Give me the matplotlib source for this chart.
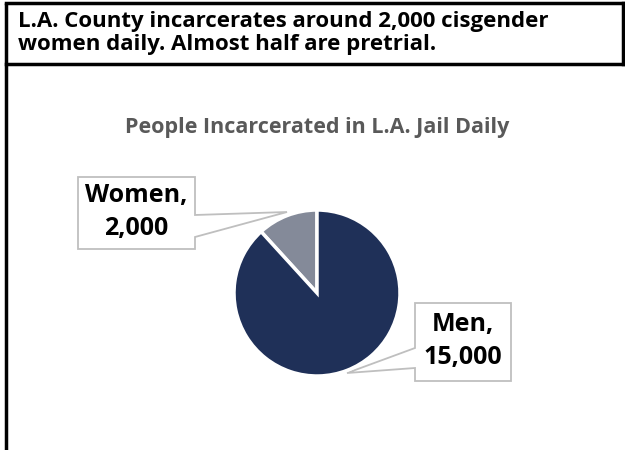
import matplotlib
matplotlib.use("Agg")
import matplotlib.pyplot as plt
from matplotlib.patches import Polygon

# data
labels = ["Women", "Men"]
counts = [2000, 15000]
count_text = ["2,000", "15,000"]
colors = ["#848A99", "#1F3058"]

header = "L.A. County incarcerates around 2,000 cisgender\nwomen daily. Almost half are pretrial."
title = "People Incarcerated in L.A. Jail Daily"

W, H = 625, 450
fig = plt.figure(figsize=(W / 100, H / 100), dpi=100)
fig.patch.set_facecolor("white")

# overlay axes in pixel coords (y down)
bg = fig.add_axes([0, 0, 1, 1])
bg.set_xlim(0, W)
bg.set_ylim(H, 0)
bg.axis("off")

# frame lines
bg.plot([6, 6], [3, H], color="black", lw=2.5, solid_capstyle="butt")
bg.plot([6, W - 2], [3, 3], color="black", lw=2.5)
bg.plot([W - 2, W - 2], [3, 64], color="black", lw=2.5)
bg.plot([6, W], [64, 64], color="black", lw=2.5)

font = "Open Sans"
bg.text(18, 33, header, ha="left", va="center", fontsize=16, fontweight="bold",
        family=font, color="black", linespacing=1.15)

bg.text(317, 128, title, ha="center", va="center", fontsize=15.5, fontweight="bold",
        family=font, color="#595959")

# pie
cx, cy, r = 317, 293, 83
pax = fig.add_axes([(cx - r) / W, (H - cy - r) / H, 2 * r / W, 2 * r / H])
pax.pie(counts, colors=colors, startangle=90, counterclock=True,
        wedgeprops=dict(edgecolor="white", linewidth=2.5))
pax.set_xlim(-1, 1)
pax.set_ylim(-1, 1)
pax.axis("off")

# callout boxes
lc = "#BFBFBF"
def callout(box, tail, txt):
    x0, y0, x1, y1 = box
    poly = [(x0, y0), (x1, y0)]
    if tail[0] == "r":
        poly += [(x1, tail[1]), tail[3], (x1, tail[2]), (x1, y1), (x0, y1)]
    else:
        poly += [(x1, y1), (x0, y1), (x0, tail[2]), tail[3], (x0, tail[1])]
    bg.add_patch(Polygon(poly, closed=True, facecolor="white", edgecolor=lc, lw=1.3, zorder=3))
    bg.text((x0 + x1) / 2, (y0 + y1) / 2 - 1, txt, ha="center", va="center", fontsize=18,
            fontweight="bold", family=font, color="black", linespacing=1.4, zorder=4)

callout((78, 177, 195, 249), ("r", 215, 237, (287, 212)), labels[0] + ",\n" + count_text[0])
callout((415, 303, 511, 381), ("l", 348, 368, (347, 373)), labels[1] + ",\n" + count_text[1])

fig.savefig("out.png", dpi=100)
